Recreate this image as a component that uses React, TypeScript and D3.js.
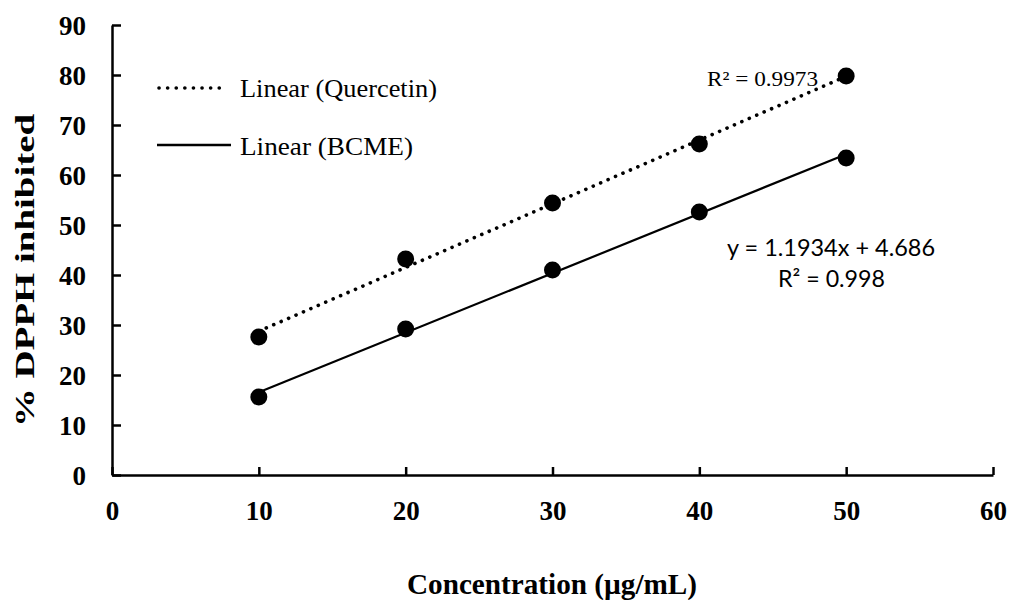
import React, { useEffect, useRef } from 'react';
import * as d3 from 'd3';

const concentrations = [10, 20, 30, 40, 50];
const quercetin = [27.6, 43.2, 54.4, 66.2, 79.8];
const bcme = [15.6, 29.2, 41.0, 52.6, 63.4];
const xTicks = [0, 10, 20, 30, 40, 50, 60];
const yTicks = [0, 10, 20, 30, 40, 50, 60, 70, 80, 90];

const width = 1010, height = 600;
const margin = { left: 112, top: 25, right: 17, bottom: 125 };

const serif = '"Liberation Serif", "Times New Roman", serif';
const sans = 'Lato, "Open Sans", sans-serif';

// least-squares fit, as Excel's linear trendline does
const fit = (xs: number[], ys: number[]) => {
  const mx = d3.mean(xs)!, my = d3.mean(ys)!;
  const slope = d3.sum(xs, (x, i) => (x - mx) * (ys[i] - my)) / d3.sum(xs, x => (x - mx) ** 2);
  return { slope, intercept: my - slope * mx };
};

const App = () => {
  const svgRef = useRef<SVGSVGElement>(null);

  useEffect(() => {
    const svg = d3.select(svgRef.current);
    svg.selectAll('*').remove();

    const x = d3.scaleLinear().domain([0, 60]).range([margin.left, width - margin.right]);
    const y = d3.scaleLinear().domain([0, 90]).range([height - margin.bottom, margin.top]);

    // y axis, ticks pointing inward
    svg.append('g')
      .attr('transform', `translate(${margin.left},0)`)
      .call(d3.axisRight(y).tickValues(yTicks).tickSize(9).tickSizeOuter(0))
      .call(g => g.select('.domain').attr('stroke', '#000').attr('stroke-width', 2.5))
      .call(g => g.selectAll('.tick line').attr('stroke', '#000').attr('stroke-width', 2.5))
      .call(g => g.selectAll('.tick text')
        .attr('x', -26)
        .attr('dy', '0.34em')
        .attr('text-anchor', 'end')
        .attr('font-family', serif)
        .attr('font-weight', 'bold')
        .attr('font-size', 27)
        .attr('fill', '#000'));

    // x axis, ticks pointing up
    svg.append('g')
      .attr('transform', `translate(0,${height - margin.bottom})`)
      .call(d3.axisTop(x).tickValues(xTicks).tickSize(8).tickSizeOuter(0))
      .call(g => g.select('.domain').attr('stroke', '#000').attr('stroke-width', 2.5))
      .call(g => g.selectAll('.tick text')
        .attr('y', 45)
        .attr('dy', 0)
        .attr('font-family', serif)
        .attr('font-weight', 'bold')
        .attr('font-size', 27)
        .attr('fill', '#000'))
      .call(g => g.selectAll('.tick line').attr('stroke', '#000').attr('stroke-width', 2.5));

    // trendlines
    const series = [
      { ys: quercetin, dotted: true },
      { ys: bcme, dotted: false },
    ];
    series.forEach(s => {
      const f = fit(concentrations, s.ys);
      const x0 = concentrations[0], x1 = concentrations[concentrations.length - 1];
      svg.append('line')
        .attr('x1', x(x0)).attr('y1', y(f.slope * x0 + f.intercept))
        .attr('x2', x(x1)).attr('y2', y(f.slope * x1 + f.intercept))
        .attr('stroke', '#000')
        .attr('stroke-width', s.dotted ? 3.6 : 2.2)
        .attr('stroke-linecap', s.dotted ? 'round' : 'butt')
        .attr('stroke-dasharray', s.dotted ? '0.1 8' : null);
    });

    // markers
    series.forEach(s => {
      svg.append('g')
        .selectAll('circle')
        .data(s.ys)
        .join('circle')
        .attr('cx', (d, i) => x(concentrations[i]))
        .attr('cy', d => y(d))
        .attr('r', 8.5)
        .attr('fill', '#000');
    });

    // legend
    const legend = svg.append('g').attr('font-family', serif).attr('font-size', 26);
    legend.append('line')
      .attr('x1', 159).attr('x2', 227).attr('y1', 88).attr('y2', 88)
      .attr('stroke', '#000').attr('stroke-width', 3.6)
      .attr('stroke-linecap', 'round').attr('stroke-dasharray', '0.1 8.5');
    legend.append('text').attr('x', 240).attr('y', 97).attr('textLength', 197)
      .attr('lengthAdjust', 'spacingAndGlyphs').text('Linear (Quercetin)');
    legend.append('line')
      .attr('x1', 157).attr('x2', 231).attr('y1', 145).attr('y2', 145)
      .attr('stroke', '#000').attr('stroke-width', 2.5);
    legend.append('text').attr('x', 240).attr('y', 155).attr('textLength', 173)
      .attr('lengthAdjust', 'spacingAndGlyphs').text('Linear (BCME)');

    // trendline labels
    svg.append('text')
      .attr('x', 707).attr('y', 86)
      .attr('font-family', serif).attr('font-size', 22)
      .attr('textLength', 111).attr('lengthAdjust', 'spacingAndGlyphs')
      .text('R² = 0.9973');
    svg.append('text')
      .attr('x', 727).attr('y', 256)
      .attr('font-family', sans).attr('font-size', 24)
      .attr('textLength', 208).attr('lengthAdjust', 'spacingAndGlyphs')
      .text('y = 1.1934x + 4.686');
    svg.append('text')
      .attr('x', 778).attr('y', 287)
      .attr('font-family', sans).attr('font-size', 24)
      .attr('textLength', 107).attr('lengthAdjust', 'spacingAndGlyphs')
      .text('R² = 0.998');

    // axis titles
    svg.append('text')
      .attr('x', 407).attr('y', 594)
      .attr('font-family', serif).attr('font-weight', 'bold').attr('font-size', 29)
      .attr('textLength', 290).attr('lengthAdjust', 'spacingAndGlyphs')
      .text('Concentration (µg/mL)');
    svg.append('text')
      .attr('transform', 'translate(34,427) rotate(-90)')
      .attr('font-family', serif).attr('font-weight', 'bold').attr('font-size', 28)
      .attr('textLength', 313).attr('lengthAdjust', 'spacingAndGlyphs')
      .text('% DPPH inhibited');
  }, []);

  return (
    <svg ref={svgRef} width={width} height={height}
      style={{ position: 'absolute', left: 0, top: 0, background: '#fff' }} />
  );
};

export default App;
